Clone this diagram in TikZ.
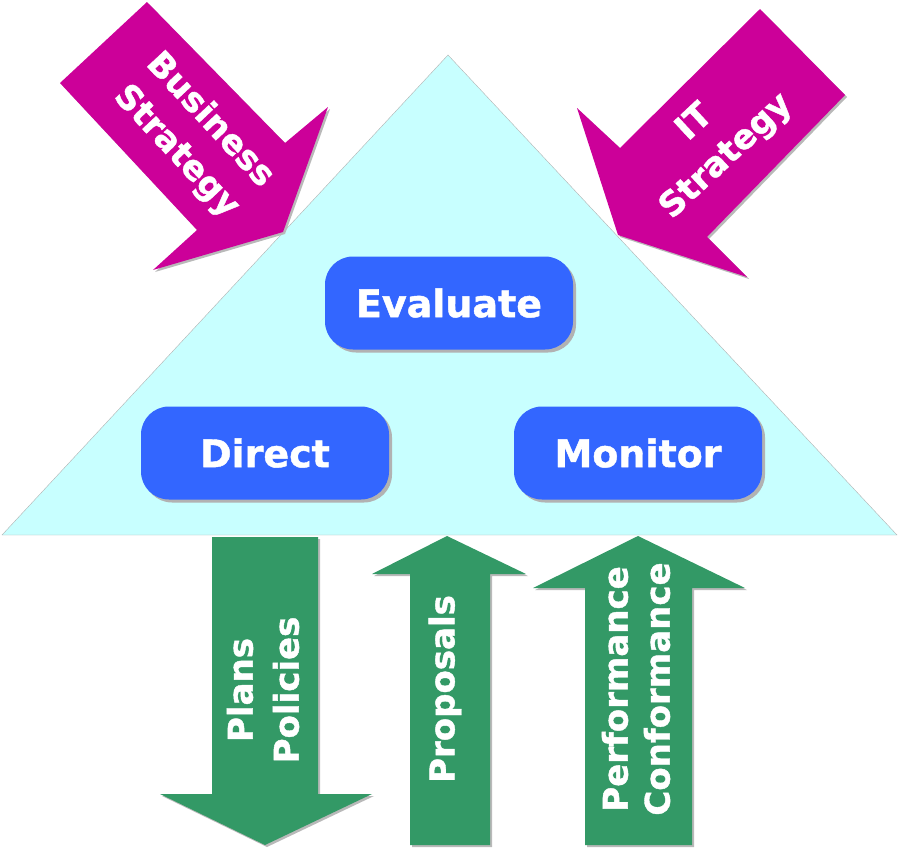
\documentclass[tikz,border=0pt]{standalone}
\usepackage{fontspec}
\setmainfont{DejaVu Sans}[BoldFeatures={FakeBold=1.2}]
\usetikzlibrary{shadows}
\definecolor{govcyan}{HTML}{C8FFFF}
\definecolor{govblue}{HTML}{3366FF}
\definecolor{govmagenta}{HTML}{CC0099}
\definecolor{govgreen}{HTML}{339966}
\begin{document}
\begin{tikzpicture}[x=1pt, y=-1pt, thick]
  \tikzstyle{govbox} = [rectangle, rounded corners=28pt, fill=govblue, text=white, font=\bfseries\fontsize{38}{44}\selectfont, minimum width=248pt, minimum height=93pt, drop shadow={shadow xshift=3pt, shadow yshift=-3pt, fill=gray!60, opacity=1}]
  \tikzstyle{bigarrow} = [drop shadow={shadow xshift=2pt, shadow yshift=-2pt, fill=gray!55, opacity=1}]
  \tikzstyle{arrowtext} = [text=white, align=center, font=\bfseries\fontsize{34}{46}\selectfont]
  \useasboundingbox (0,0) rectangle (900,849);

  % triangle
  \draw[fill=govcyan, draw=gray!60, thin] (448,55) -- (897,535) -- (2,535) -- cycle;

  % strategy arrows
  \fill[govmagenta, bigarrow] (147,2) -- (60,83) -- (197,230) -- (153,270) -- (283,232) -- (328,107) -- (285,143) -- cycle;
  \fill[govmagenta, bigarrow] (760,9) -- (845,95) -- (707,237) -- (747,277) -- (618,235) -- (577,108) -- (620,148) -- cycle;
  \node[arrowtext, rotate=-47] (bizstrat) at (193,136) {Business\\Strategy};
  \node[arrowtext, rotate=43] (itstrat) at (711,140) {IT\\Strategy};

  % governance boxes
  \node[govbox] (evaluate) at (449,303) {Evaluate};
  \node[govbox] (direct) at (265,453) {Direct};
  \node[govbox] (monitor) at (638,453) {Monitor};

  % outputs and inputs
  \fill[govgreen, bigarrow] (212,537) -- (318,537) -- (318,794) -- (372,794) -- (265,845) -- (160,794) -- (212,794) -- cycle;
  \fill[govgreen, bigarrow] (447,536) -- (526,574) -- (490,574) -- (490,845) -- (410,845) -- (410,574) -- (372,574) -- cycle;
  \fill[govgreen, bigarrow] (638,536) -- (745,588) -- (692,588) -- (692,845) -- (585,845) -- (585,588) -- (533,588) -- cycle;
  \node[arrowtext, rotate=90] (plans) at (263,690) {Plans\\Policies};
  \node[arrowtext, rotate=90] (proposals) at (445,689) {Proposals};
  \node[arrowtext, rotate=90, font=\bfseries\fontsize{34}{42}\selectfont] (perf) at (636,689) {Performance\\Conformance};
\end{tikzpicture}
\end{document}
